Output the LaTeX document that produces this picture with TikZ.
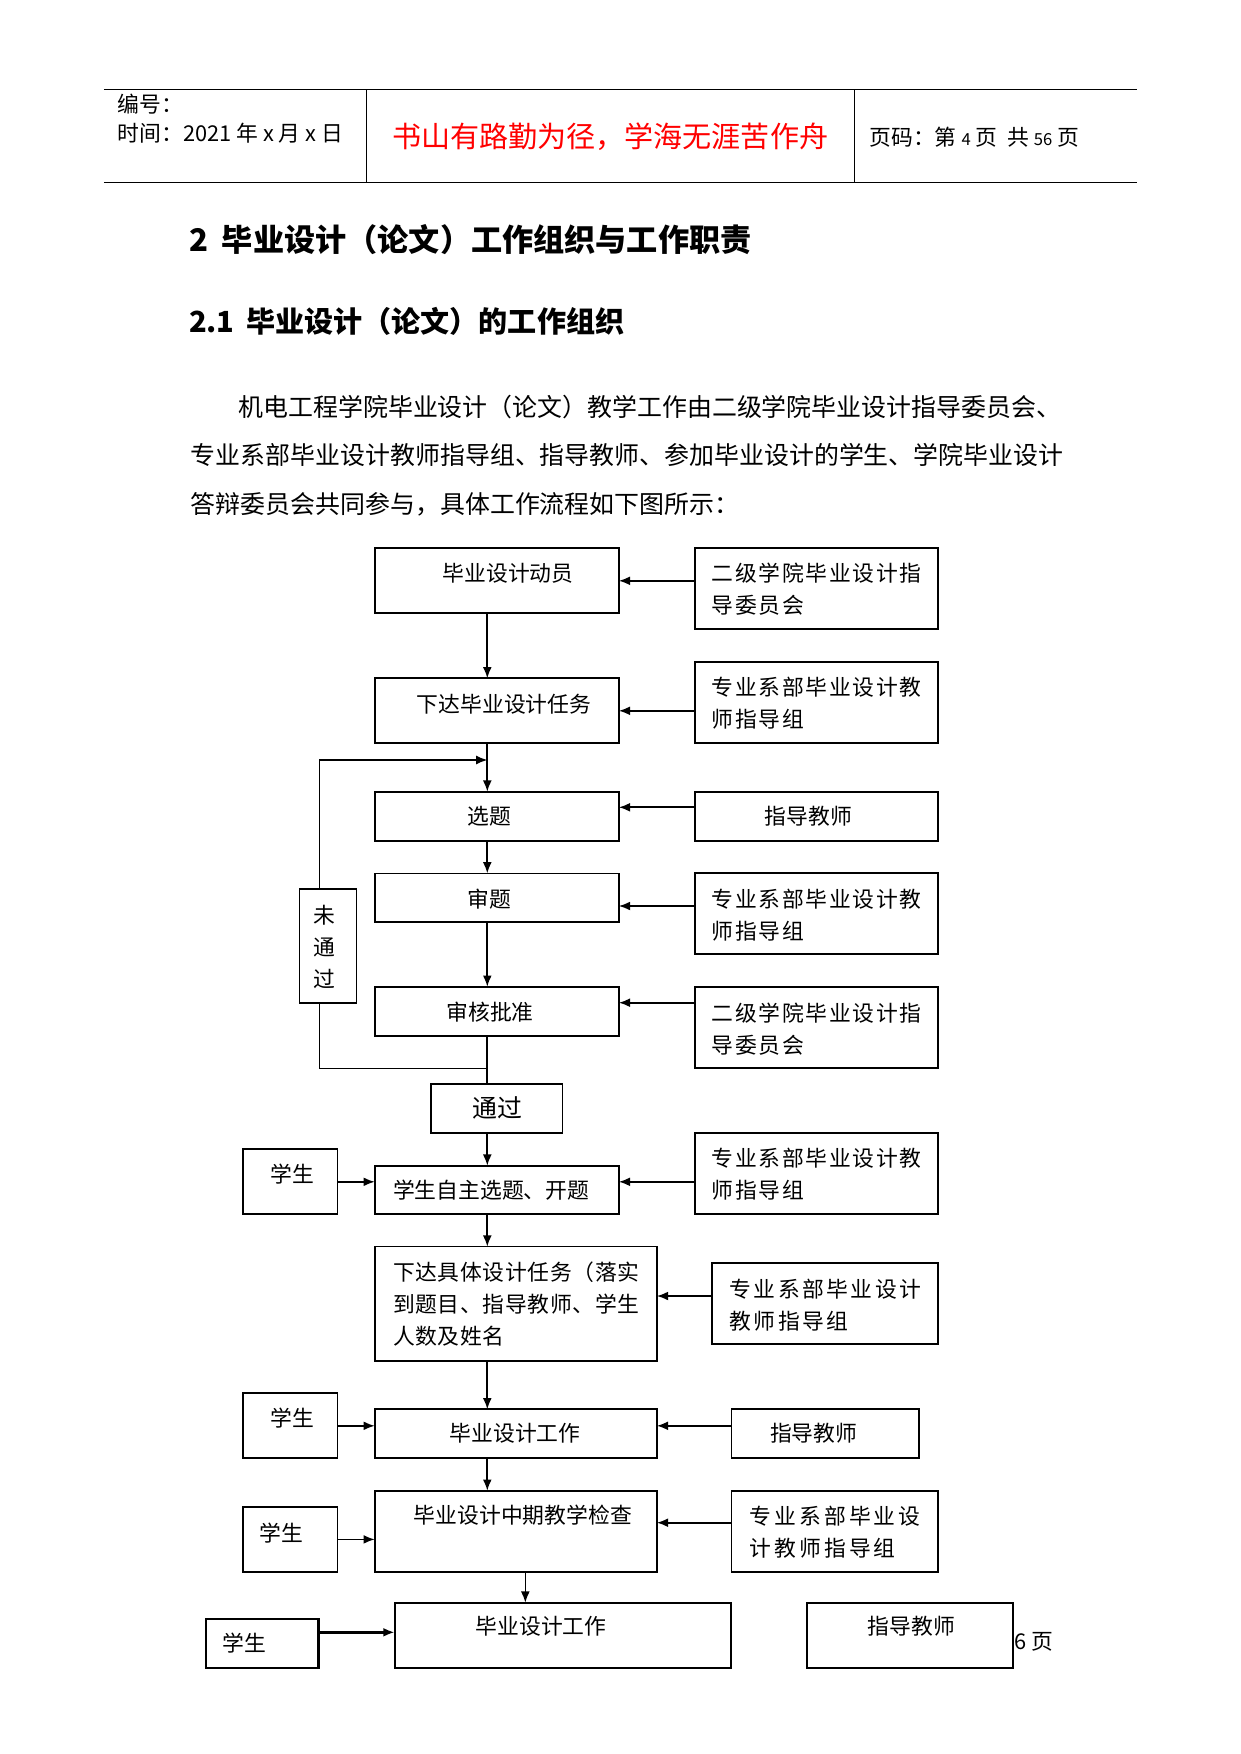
\documentclass[tikz,border=0pt]{standalone}
\usepackage{fontspec}
\setmainfont{Noto Sans CJK SC}
\usepackage{xcolor}
\usepackage{tikz}
\usetikzlibrary{arrows.meta}
\newdimen\pxu
\pxu=0.169218mm
\newdimen\pxx
\pxx=0.16761mm

\begin{document}
\begin{tikzpicture}[x=0.16761mm, y=-0.169218mm, line width=0.8pt,
box/.style 2 args={draw, rectangle, inner sep=0pt, outer sep=0pt, minimum width=#1*\pxx, minimum height=#2*\pxu},
word/.style={inner sep=0pt, font=\fontsize{10.5}{15.3}\selectfont, align=left},
wide/.style={word, font=\fontsize{10.5}{15.3}\selectfont\addfontfeature{LetterSpace=#1}},
feed/.style={-{Latex[length=1.9mm, width=1.5mm]}}]
\useasboundingbox (0,0) rectangle (1252.9,1754);

\draw [line width=0.7pt] (105,89.3) -- (1148,89.3);
\draw [line width=0.7pt] (105,182.3) -- (1148,182.3);
\draw [line width=0.7pt] (370,89.3) -- (370,182.3);
\draw [line width=0.5pt] (863,89.3) -- (863,182.3);
\node [word, anchor=west] (bianhao) at (118,104) {编号：};
\node [word, anchor=west] (shijian) at (118,133) {时间：2021 年 x 月 x 日};
\node [inner sep=0pt, text=red, font=\fontsize{14}{16}\selectfont] (motto) at (616,137) {书山有路勤为径，学海无涯苦作舟};
\node [word, anchor=west] (yema) at (877,137) {页码：第 {\footnotesize 4} 页\ \ 共 {\footnotesize 56} 页};

\node [inner sep=0pt, anchor=west, font=\fontsize{15}{18}\selectfont\bfseries] (zhang) at (190,240) {2\hspace{0.45em}毕业设计（论文）工作组织与工作职责};
\node [inner sep=0pt, anchor=west, font=\fontsize{14}{17}\selectfont\bfseries] (jie) at (190,321) {2.1\hspace{0.4em}毕业设计（论文）的工作组织};

\node [inner sep=0pt, anchor=west, font=\fontsize{12}{14}\selectfont] (duan1) at (240,407) {机电工程学院毕业设计（论文）教学工作由二级学院毕业设计指导委员会、};
\node [inner sep=0pt, anchor=west, font=\fontsize{12}{14}\selectfont] (duan2) at (192,455) {专业系部毕业设计教师指导组、指导教师、参加毕业设计的学生、学院毕业设计};
\node [inner sep=0pt, anchor=west, font=\fontsize{12}{14}\selectfont] (duan3) at (192,504) {答辩委员会共同参与，具体工作流程如下图所示：};

\coordinate (spine) at (492,0);
\coordinate (spine2) at (530.4,0);

\node [box={246.4}{65}] (dongyuan) at (501.6,580.8) {};
\node [word] (dongyuan-t) at (513,573) {毕业设计动员};
\node [box={245.6}{81}] (weiyuan1) at (824.4,588.8) {};
\node [wide=8, anchor=west] (weiyuan1-t) at (717.6,589.5) {二级学院毕业设计指\\导委员会};

\node [box={246.4}{65}] (xiada) at (501.6,710.8) {};
\node [word] (xiada-t) at (509,704) {下达毕业设计任务};
\node [box={245.6}{81.6}] (zhidao1) at (824.4,702.5) {};
\node [wide=8, anchor=west] (zhidao1-t) at (717.6,703.5) {专业系部毕业设计教\\师指导组};

\node [box={246.4}{49}] (xuanti) at (501.6,816.2) {};
\node [word] (xuanti-t) at (494,816.7) {选题};
\node [box={245.6}{49}] (jiaoshi1) at (824.4,816.2) {};
\node [word] (jiaoshi1-t) at (816,816.7) {指导教师};

\node [box={246.4}{48.7}] (shenti) at (501.6,897.7) {};
\node [word] (shenti-t) at (494,898.7) {审题};
\node [box={245.6}{81}] (zhidao2) at (824.4,913.8) {};
\node [wide=8, anchor=west] (zhidao2-t) at (717.6,915) {专业系部毕业设计教\\师指导组};

\node [box={246.4}{49.3}] (pizhun) at (501.6,1011.4) {};
\node [word] (pizhun-t) at (494.8,1012) {审核批准};
\node [box={245.6}{81.6}] (weiyuan2) at (824.4,1027.5) {};
\node [wide=8, anchor=west] (weiyuan2-t) at (717.6,1029) {二级学院毕业设计指\\导委员会};

\node [box={57.6}{114}] (weitongguo) at (331.2,946.3) {};
\node [word, align=center] (weitongguo-t) at (328,946.7) {未\\通\\过};

\node [box={132.8}{49}] (tongguo) at (501.6,1108.8) {};
\node [inner sep=0pt, font=\fontsize{12}{14}\selectfont] (tongguo-t) at (502,1108) {通过};

\node [box={246.4}{48.6}] (zizhu) at (501.6,1190) {};
\node [word, anchor=west] (zizhu-t) at (396,1190) {学生自主选题、开题};
\node [box={95.2}{65}] (xuesheng1) at (293.2,1181.8) {};
\node [word] (xuesheng1-t) at (295,1174) {学生};
\node [box={245.6}{81}] (zhidao3) at (824.4,1173.8) {};
\node [wide=8, anchor=west] (zhidao3-t) at (717.6,1174) {专业系部毕业设计教\\师指导组};

\node [box={284.8}{114.3}] (juti) at (520.8,1303.8) {};
\node [wide=3, anchor=west, font=\fontsize{10.5}{15.5}\selectfont\addfontfeature{LetterSpace=3}] (juti-t) at (396,1304) {下达具体设计任务（落实\\到题目、指导教师、学生\\人数及姓名};
\node [box={228}{81}] (zhidao4) at (833.2,1303.8) {};
\node [wide=11, anchor=west] (zhidao4-t) at (736,1305) {专业系部毕业设计\\教师指导组};

\node [box={284.8}{49}] (gongzuo1) at (520.8,1433.8) {};
\node [word] (gongzuo1-t) at (520,1433.3) {毕业设计工作};
\node [box={95.2}{65}] (xuesheng2) at (293.2,1425.8) {};
\node [word] (xuesheng2-t) at (295,1418.3) {学生};
\node [box={189.6}{49}] (jiaoshi2) at (833.2,1433.8) {};
\node [word] (jiaoshi2-t) at (821.6,1433.3) {指导教师};

\node [box={284.8}{81.3}] (zhongqi) at (520.8,1531.4) {};
\node [word] (zhongqi-t) at (528,1515) {毕业设计中期教学检查};
\node [box={95.2}{65.3}] (xuesheng3) at (293.2,1539.4) {};
\node [word] (xuesheng3-t) at (284,1532.7) {学生};
\node [box={208.8}{81.3}] (zhidao5) at (842.8,1531.4) {};
\node [wide=14, anchor=west] (zhidao5-t) at (756,1532) {专业系部毕业设\\计教师指导组};

\node [word, anchor=east] (yeshu) at (1064,1641.7) {56 页};
\node [box={340}{65.6}, line width=1pt] (gongzuo2) at (568.4,1635.5) {};
\node [word] (gongzuo2-t) at (546.4,1626.7) {毕业设计工作};
\node [box={113.6}{49.6}, line width=1pt] (xuesheng4) at (264.8,1643.5) {};
\node [word] (xuesheng4-t) at (246.4,1643.3) {学生};
\node [box={208.8}{65.6}, line width=1pt, fill=white] (jiaoshi3) at (918.8,1635.5) {};
\node [word] (jiaoshi3-t) at (920,1626.7) {指导教师};

\coordinate (back1) at (322.4,1068.3);
\coordinate (back2) at (322.4,760);

\draw [feed] (dongyuan.south -| spine) -- (xiada.north -| spine);
\draw [feed] (weiyuan1.west |- dongyuan.east) -- (dongyuan.east);
\draw [feed] (zhidao1.west |- xiada.east) -- (xiada.east);
\draw [feed] (xiada.south -| spine) -- (xuanti.north -| spine);
\draw [feed, line width=0.5pt] (weitongguo.north -| back2) -- (back2) -- (back2 -| spine);
\draw [feed] ([shift={(0,-8.9)}]jiaoshi1.west) -- ([shift={(0,-8.9)}]xuanti.east);
\draw [feed] (xuanti.south -| spine) -- (shenti.north -| spine);
\draw [feed] ([shift={(0,-7.8)}]zhidao2.west) -- ([shift={(0,8.3)}]shenti.east);
\draw [feed] (shenti.south -| spine) -- (pizhun.north -| spine);
\draw [feed] ([shift={(0,-24.8)}]weiyuan2.west) -- ([shift={(0,-8.7)}]pizhun.east);
\draw (pizhun.south -| spine) -- (tongguo.north -| spine);
\draw [line width=0.5pt] (back1 -| spine) -- (back1) -- (weitongguo.south -| back1);
\draw [feed] (tongguo.south -| spine) -- (zizhu.north -| spine);
\draw [feed] (xuesheng1.east) -- (xuesheng1.east -| zizhu.west);
\draw [feed] (zhidao3.west |- xuesheng1.east) -- (xuesheng1.east -| zizhu.east);
\draw [feed] (zizhu.south -| spine) -- (juti.north -| spine);
\draw [feed] ([shift={(0,-7.8)}]zhidao4.west) -- ([shift={(0,-7.8)}]juti.east);
\draw [feed] (juti.south -| spine) -- (gongzuo1.north -| spine);
\draw [feed] (xuesheng2.east) -- (xuesheng2.east -| gongzuo1.west);
\draw [feed] (jiaoshi2.west |- xuesheng2.east) -- (xuesheng2.east -| gongzuo1.east);
\draw [feed] (gongzuo1.south -| spine) -- (zhongqi.north -| spine);
\draw [feed] (xuesheng3.east) -- (xuesheng3.east -| zhongqi.west);
\draw [feed] ([shift={(0,-8.7)}]zhidao5.west) -- ([shift={(0,-8.7)}]zhongqi.east);
\draw [feed] (zhongqi.south -| spine2) -- (gongzuo2.north -| spine2);
\draw [feed, line width=1.4pt] ([shift={(0,-11.2)}]xuesheng4.east) -- ([shift={(0,-3.2)}]gongzuo2.west);
\end{tikzpicture}
\end{document}
